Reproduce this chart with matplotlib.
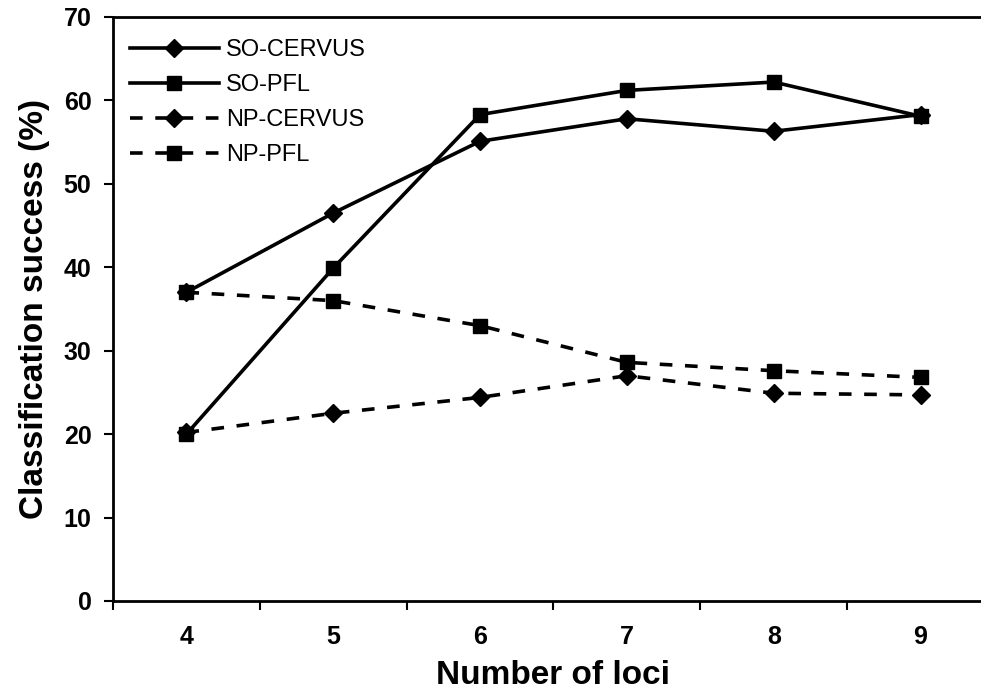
import matplotlib
matplotlib.use("Agg")
import matplotlib.pyplot as plt
import numpy as np

# number of loci on the x axis
loci = ["4", "5", "6", "7", "8", "9"]

# classification success (%)
so_cervus = [37.0, 46.5, 55.1, 57.8, 56.3, 58.3]
so_pfl = [20.0, 39.9, 58.3, 61.2, 62.2, 58.1]
np_cervus = [20.2, 22.5, 24.4, 27.0, 24.9, 24.7]
np_pfl = [37.0, 36.0, 33.0, 28.6, 27.6, 26.8]

plt.rcParams['font.family'] = ['Liberation Sans', 'DejaVu Sans']

fig = plt.figure(figsize=(9.81, 6.93), dpi=100)
ax = fig.add_axes([0.1152, 0.1328, 0.898, 0.8427])

x = np.arange(len(loci))
lw = 2.6
dash = (0, (3.5, 3.5))

ax.plot(x, so_cervus, color='black', lw=lw, marker='D', ms=9.5, label='SO-CERVUS')
ax.plot(x, so_pfl, color='black', lw=lw, marker='s', ms=10.5, label='SO-PFL')
ax.plot(x, np_cervus, color='black', lw=lw, ls=dash, marker='D', ms=9.5, label='NP-CERVUS')
ax.plot(x, np_pfl, color='black', lw=lw, ls=dash, marker='s', ms=10.5, label='NP-PFL')

ax.set_xlim(-0.5, len(loci) - 0.5)
ax.set_ylim(0, 70)
ax.set_yticks(range(0, 71, 10))

# labels at the category centres, tick marks on the boundaries
ax.set_xticks(x)
ax.set_xticklabels(loci)
ax.set_xticks(np.arange(-0.5, len(loci), 1.0), minor=True)
ax.tick_params(axis='x', which='major', length=0, pad=17)
ax.tick_params(axis='x', which='minor', length=6.5, width=1.5, direction='out')
ax.tick_params(axis='y', length=6.5, width=1.5, direction='out', pad=9)

for lab in ax.get_xticklabels() + ax.get_yticklabels():
    lab.set_fontsize(18)
    lab.set_fontweight('bold')

for s in ax.spines.values():
    s.set_linewidth(2)
ax.spines['right'].set_visible(False)

ax.set_xlabel('Number of loci', fontsize=24, fontweight='bold', labelpad=8)
ax.set_ylabel('Classification success (%)', fontsize=24, fontweight='bold', labelpad=10)

ax.legend(loc='upper left', frameon=False, fontsize=17, handlelength=3.8,
          handletextpad=0.3, labelspacing=0.55, borderaxespad=0.3,
          bbox_to_anchor=(0.0, 0.99))

fig.savefig('out.png', dpi=100)
